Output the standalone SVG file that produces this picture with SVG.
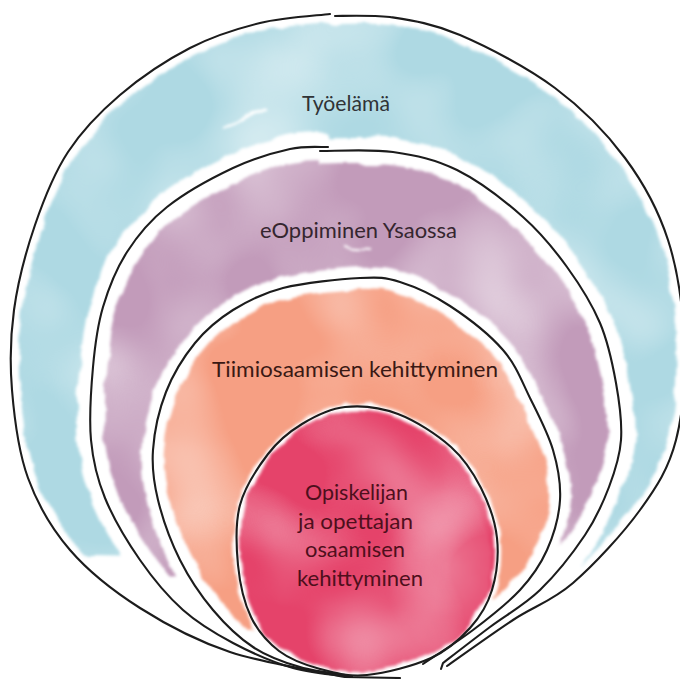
<svg xmlns="http://www.w3.org/2000/svg" width="680" height="679" viewBox="0 0 680 679">
<style>
.ink{fill:none;stroke:#1c1c1c;stroke-width:2.1;stroke-linecap:round;stroke-linejoin:round}
.lbl{font-family:Lato,"Open Sans","Liberation Sans",sans-serif;font-size:21px}
.gap{fill:none;stroke:#fff}
</style>
<defs>
<path id="p1" d="M335,16 C344.2,16 369,15 390,17 C410.8,20.2 432.5,23.2 460,35 C487.5,46.8 527.5,67.5 555,88 C582.5,108.5 606.2,132.7 625,158 C643.8,183.3 658.2,209.7 668,240 C677.8,270.3 682.7,306.7 684,340 C685.3,373.3 683.3,411.7 676,440 C668.7,468.3 657.2,486.2 640,510 C622.8,533.8 594.2,564.7 573,583 C551.8,601.3 534,606.2 513,620 C492,633.8 458,658.3 447,666 L345,677 C325.8,672.8 264.2,663.5 230,652 C195.8,640.5 166.7,625 140,608 C113.3,591 88.7,571.7 70,550 C51.3,528.3 37.7,504.7 28,478 C18.3,451.3 14.3,418 12,390 C9.7,362 10.2,337.5 14,310 C17.8,282.5 26,251.3 35,225 C44,198.7 53.8,173.7 68,152 C82.2,130.3 99.7,112.3 120,95 C140.3,77.7 166.7,60 190,48 C213.3,36 236.7,28.7 260,23 C283.3,17.3 318.3,15.5 330,14 Z"/>
<path id="p2" d="M320,151 C332.2,151.2 370.2,148.8 393,152 C415.8,155.2 435.3,159.2 457,170 C478.7,180.8 504.7,200.8 523,217 C541.3,233.2 554.2,249.3 567,267 C579.8,284.7 591.8,303.7 600,323 C608.2,342.3 612.5,363.5 616,383 C619.5,402.5 622.2,422.7 621,440 C619.8,457.3 615,471.2 609,487 C603,502.8 596.5,517.8 585,535 C573.5,552.2 555.8,574.7 540,590 C524.2,605.3 506.2,614.8 490,627 C473.8,639.2 450.8,657 443,663 L352,677 C342.2,675.5 312.8,673.7 293,668 C273.2,662.3 251.3,652.7 233,643 C214.7,633.3 198.5,623.8 183,610 C167.5,596.2 153,578.7 140,560 C127,541.3 113.2,518 105,498 C96.8,478 93,461.8 91,440 C89,418.2 91,389.2 93,367 C95,344.8 97.3,326.2 103,307 C108.7,287.8 116.3,268.7 127,252 C137.7,235.3 149.3,221 167,207 C184.7,193 212.5,177.7 233,168 C253.5,158.3 274.2,152.5 290,149 C305.8,145.5 321.7,147.3 328,147 Z"/>
<path id="p3" d="M352,676 C343.3,674.5 316.5,671.8 300,667 C283.5,662.2 267.5,656.5 253,647 C238.5,637.5 225.2,624.5 213,610 C200.8,595.5 189.2,578.3 180,560 C170.8,541.7 162.5,518.3 158,500 C153.5,481.7 151.7,468 153,450 C154.3,432 159,409.8 166,392 C173,374.2 183.8,356.7 195,343 C206.2,329.3 218.3,319.2 233,310 C247.7,300.8 261.8,293.3 283,288 C304.2,282.7 340.5,279 360,278 C379.5,277 385,277.3 400,282 C415,286.7 432.8,294.7 450,306 C467.2,317.3 489.7,334.7 503,350 C516.3,365.3 521.7,381.3 530,398 C538.3,414.7 548,433 553,450 C558,467 561,483.3 560,500 C559,516.7 553.7,535 547,550 C540.3,565 532.3,576.7 520,590 C507.7,603.3 489.2,617.7 473,630 C456.8,642.3 431.3,658.3 423,664"/>
<path id="p4" d="M345,407 C361,405.3 380.3,407.3 398,414 C415.7,420.7 437.2,434.7 451,447 C464.8,459.3 473.3,472.8 481,488 C488.7,503.2 495.2,521 497,538 C498.8,555 496.5,575 492,590 C487.5,605 480.2,616.7 470,628 C459.8,639.3 448.2,650.2 431,658 C413.8,665.8 385.5,673.2 367,675 C348.5,676.8 334.7,673 320,669 C305.3,665 290.5,659.7 279,651 C267.5,642.3 257.8,631.3 251,617 C244.2,602.7 239.8,583.7 238,565 C236.2,546.3 235,523.5 240,505 C245,486.5 257.7,467.5 268,454 C278.3,440.5 289.2,431.8 302,424 C314.8,416.2 329,408.7 345,407 Z"/>
<clipPath id="c1"><use href="#p1"/></clipPath>
<clipPath id="c2"><use href="#p2"/></clipPath>
<clipPath id="c3"><use href="#p3"/></clipPath>
<radialGradient id="pinkglow" cx="0.7" cy="0.55" r="0.45">
<stop offset="0" stop-color="#fff" stop-opacity="0.28"/>
<stop offset="1" stop-color="#fff" stop-opacity="0"/>
</radialGradient>
<filter id="wash" filterUnits="userSpaceOnUse" x="0" y="0" width="680" height="679" color-interpolation-filters="sRGB">
<feTurbulence type="fractalNoise" baseFrequency="0.04" numOctaves="3" seed="5" result="edge"/>
<feDisplacementMap in="SourceGraphic" in2="edge" scale="8" xChannelSelector="R" yChannelSelector="G" result="ragged"/>
<feGaussianBlur in="ragged" stdDeviation="1.7" result="soft"/>
<feTurbulence type="fractalNoise" baseFrequency="0.009" numOctaves="2" seed="12" result="blot"/>
<feColorMatrix in="blot" type="matrix" values="0 0 0 0 1  0 0 0 0 1  0 0 0 0 1  1.0 0 0 0 -0.4" result="light"/>
<feComposite in="light" in2="soft" operator="atop"/>
</filter>
</defs>
<rect width="680" height="679" fill="#fff"/>
<g id="washes" filter="url(#wash)">
<use href="#p1" fill="#aed9e3"/>
<polygon points="0,553 680,568 680,679 0,679" fill="#fff" clip-path="url(#c1)"/>
<use href="#p1" class="gap" stroke-width="16"/>
<use href="#p2" class="gap" stroke-width="27" style="fill:#c29bba"/>
<polygon points="0,586 680,548 680,679 0,679" fill="#fff" clip-path="url(#c2)"/>
<use href="#p3" class="gap" stroke-width="22" style="fill:#f69f83"/>
<polygon points="0,640 680,612 680,679 0,679" fill="#fff" clip-path="url(#c3)"/>
<use href="#p4" class="gap" stroke-width="7" style="fill:#e5436a"/>
<ellipse cx="420" cy="560" rx="70" ry="95" fill="url(#pinkglow)"/>
<path d="M222,130 L265,108" stroke="#fff" stroke-width="3" fill="none"/>
<path d="M343,248 L370,250" stroke="#fff" stroke-width="2" fill="none"/>
</g>
<g id="outlines">
<path id="ring1-left" class="ink" d="M330,14 C318.3,15.5 283.3,17.3 260,23 C236.7,28.7 213.3,36 190,48 C166.7,60 140.3,77.7 120,95 C99.7,112.3 82.2,130.3 68,152 C53.8,173.7 44,198.7 35,225 C26,251.3 17.8,282.5 14,310 C10.2,337.5 9.7,362 12,390 C14.3,418 18.3,451.3 28,478 C37.7,504.7 51.3,528.3 70,550 C88.7,571.7 113.3,591 140,608 C166.7,625 195.8,640.5 230,652 C264.2,663.5 325.8,672.8 345,677 L400,678"/>
<path id="ring1-right" class="ink" d="M335,16 C344.2,16 369,15 390,17 C410.8,20.2 432.5,23.2 460,35 C487.5,46.8 527.5,67.5 555,88 C582.5,108.5 606.2,132.7 625,158 C643.8,183.3 658.2,209.7 668,240 C677.8,270.3 682.7,306.7 684,340 C685.3,373.3 683.3,411.7 676,440 C668.7,468.3 657.2,486.2 640,510 C622.8,533.8 594.2,564.7 573,583 C551.8,601.3 534,606.2 513,620 C492,633.8 458,658.3 447,666"/>
<path id="ring2-left" class="ink" d="M328,147 C321.7,147.3 305.8,145.5 290,149 C274.2,152.5 253.5,158.3 233,168 C212.5,177.7 184.7,193 167,207 C149.3,221 137.7,235.3 127,252 C116.3,268.7 108.7,287.8 103,307 C97.3,326.2 95,344.8 93,367 C91,389.2 89,418.2 91,440 C93,461.8 96.8,478 105,498 C113.2,518 127,541.3 140,560 C153,578.7 167.5,596.2 183,610 C198.5,623.8 214.7,633.3 233,643 C251.3,652.7 273.2,662.3 293,668 C312.8,673.7 342.2,675.5 352,677"/>
<path id="ring2-right" class="ink" d="M320,151 C332.2,151.2 370.2,148.8 393,152 C415.8,155.2 435.3,159.2 457,170 C478.7,180.8 504.7,200.8 523,217 C541.3,233.2 554.2,249.3 567,267 C579.8,284.7 591.8,303.7 600,323 C608.2,342.3 612.5,363.5 616,383 C619.5,402.5 622.2,422.7 621,440 C619.8,457.3 615,471.2 609,487 C603,502.8 596.5,517.8 585,535 C573.5,552.2 555.8,574.7 540,590 C524.2,605.3 506.2,614.8 490,627 C473.8,639.2 450.8,657 443,663 L441,669"/>
<use id="ring3" href="#p3" class="ink"/>
<use id="ring4" href="#p4" class="ink"/>
</g>
<g id="labels">
<g id="node-tyoelama"><text class="lbl" x="302" y="111" textLength="88" lengthAdjust="spacingAndGlyphs" fill="#303336">Työelämä</text></g>
<g id="node-eoppiminen"><text class="lbl" x="260" y="238" textLength="197" lengthAdjust="spacingAndGlyphs" fill="#35262f">eOppiminen Ysaossa</text></g>
<g id="node-tiimi"><text class="lbl" x="212" y="377" textLength="286" lengthAdjust="spacingAndGlyphs" fill="#3a1914">Tiimiosaamisen kehittyminen</text></g>
<g id="node-opiskelija" fill="#4e0f1c">
<text class="lbl" x="305" y="500" textLength="103" lengthAdjust="spacingAndGlyphs">Opiskelijan</text>
<text class="lbl" x="298" y="529" textLength="115" lengthAdjust="spacingAndGlyphs">ja opettajan</text>
<text class="lbl" x="305" y="557" textLength="100" lengthAdjust="spacingAndGlyphs">osaamisen</text>
<text class="lbl" x="297" y="586" textLength="126" lengthAdjust="spacingAndGlyphs">kehittyminen</text>
</g>
</g>
</svg>
